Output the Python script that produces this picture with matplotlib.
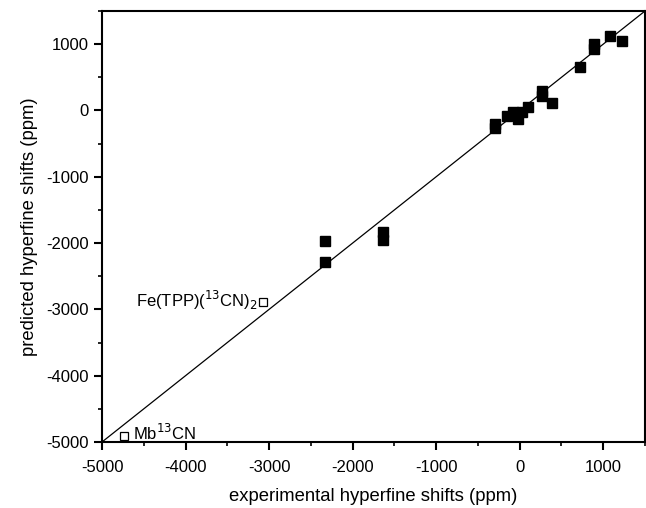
import matplotlib
matplotlib.use("Agg")
import matplotlib.pyplot as plt
from matplotlib.ticker import MultipleLocator

plt.rcParams['font.family'] = ['Liberation Sans', 'DejaVu Sans']
plt.rcParams['axes.unicode_minus'] = False

# filled squares: calculated vs experimental shifts
exp_shift = [-2330, -2330, -1640, -1640, -290, -290, -150, -80, -20, 25, 100,
             262, 262, 382, 720, 890, 890, 1078, 1220]
pred_shift = [-1970, -2280, -1835, -1950, -200, -260, -90, -30, -135, -30, 45,
              300, 220, 106, 656, 1000, 920, 1126, 1050]

# open squares: labelled complexes
open_exp = [-3070, -4740]
open_pred = [-2890, -4910]
open_names = [r'Fe(TPP)($^{13}$CN)$_2$', r'Mb$^{13}$CN']

diag = [-5000, 1500]

fig = plt.figure(figsize=(6.46, 5.08), dpi=100)
ax = fig.add_axes([102 / 646, 66 / 508, 543 / 646, 431 / 508])

ax.plot(diag, diag, color='k', lw=0.9)
ax.plot(exp_shift, pred_shift, 's', color='k', ms=7.5, mec='k')
ax.plot(open_exp, open_pred, 's', mfc='white', mec='k', ms=6, mew=0.9)

ax.text(open_exp[0] - 60, open_pred[0] + 20, open_names[0], fontsize=12,
        ha='right', va='center')
ax.text(open_exp[1] + 110, open_pred[1] + 40, open_names[1], fontsize=12,
        ha='left', va='center')

ax.set_xlim(-5000, 1500)
ax.set_ylim(-5000, 1500)
ax.xaxis.set_major_locator(MultipleLocator(1000))
ax.xaxis.set_minor_locator(MultipleLocator(500))
ax.yaxis.set_major_locator(MultipleLocator(1000))
ax.yaxis.set_minor_locator(MultipleLocator(500))
ax.tick_params(which='major', direction='out', length=6, width=1.5, labelsize=12)
ax.tick_params(axis='x', which='major', pad=7)
ax.tick_params(which='minor', direction='out', length=3, width=1.2)
for s in ax.spines.values():
    s.set_linewidth(1.5)

ax.set_xlabel('experimental hyperfine shifts (ppm)', fontsize=13.3, labelpad=9)
ax.set_ylabel('predicted hyperfine shifts (ppm)', fontsize=13.3, labelpad=6)

fig.savefig('out.png', dpi=100)
